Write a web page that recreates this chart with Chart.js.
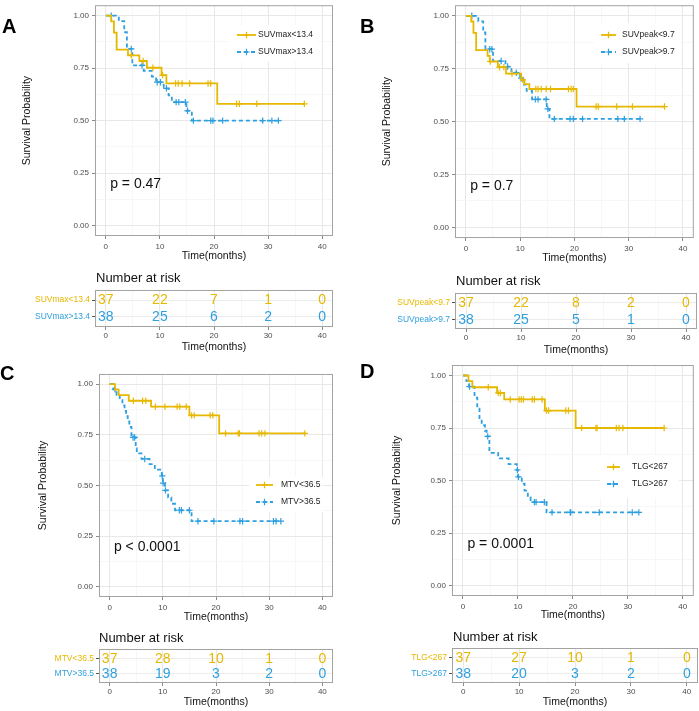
<!DOCTYPE html>
<html>
<head>
<meta charset="utf-8">
<script src="https://cdn.jsdelivr.net/npm/chart.js@4.4.1/dist/chart.umd.min.js"></script>
<style>
  body { margin: 0; background: #fff; }
  #wrap { position: relative; width: 699px; height: 711px; overflow: hidden; background: #fff; }
  #wrap canvas { position: absolute; }
  .tag { position: absolute; font: bold 20px "Liberation Sans", Arial, sans-serif; color: #000; line-height: 20px; }
</style>
</head>
<body>
<div id="wrap">
  <canvas id="kmA" width="349" height="264" style="left:0;top:0"></canvas>
  <canvas id="kmB" width="350" height="266" style="left:349px;top:0"></canvas>
  <canvas id="riskA" width="349" height="90" style="left:0;top:265px"></canvas>
  <canvas id="riskB" width="350" height="93" style="left:349px;top:265px"></canvas>
  <canvas id="kmC" width="349" height="285" style="left:0;top:340px"></canvas>
  <canvas id="kmD" width="350" height="283" style="left:349px;top:340px"></canvas>
  <canvas id="riskC" width="349" height="91" style="left:0;top:620px"></canvas>
  <canvas id="riskD" width="350" height="91" style="left:349px;top:620px"></canvas>
  <div class="tag" style="left:2px;top:16px">A</div>
  <div class="tag" style="left:360px;top:16px">B</div>
  <div class="tag" style="left:0;top:363px">C</div>
  <div class="tag" style="left:360px;top:361px">D</div>
</div>
<script>
// ---- data ----
const xTickLabels = [0, 10, 20, 30, 40];
const yTickLabels = [0, 0.25, 0.5, 0.75, 1];
const riskTimes = [0, 10, 20, 30, 40];

// A: SUVmax
const groupsA = ['SUVmax<13.4', 'SUVmax>13.4'];
const lowTimeA = [0, 1.0, 1.5, 2.0, 4.1, 6.2, 7.6, 10.3, 11.2, 20.6, 36.7];
const lowSurvA = [1, 0.973, 0.919, 0.838, 0.811, 0.784, 0.752, 0.717, 0.677, 0.58, 0.58];
const lowCensA = [4.7, 6.9, 8.7, 10.5, 12.9, 13.4, 14.1, 15.5, 18.9, 19.4, 24.2, 24.7, 27.9, 36.7];
const highTimeA = [0, 2.4, 3.4, 3.9, 4.9, 7.0, 8.5, 9.3, 10.7, 11.6, 12.2, 14.9, 15.9, 31.9];
const highSurvA = [1, 0.974, 0.921, 0.842, 0.763, 0.737, 0.71, 0.683, 0.654, 0.62, 0.588, 0.547, 0.5, 0.5];
const highCensA = [1.0, 4.7, 6.7, 9.5, 10.1, 11.2, 13.0, 13.5, 14.7, 15.1, 16.2, 19.4, 19.8, 21.6, 29.0, 30.7, 31.9];
const riskLowA = [37, 22, 7, 1, 0];
const riskHighA = [38, 25, 6, 2, 0];
const pTextA = 'p = 0.47';

// B: SUVpeak
const groupsB = ['SUVpeak<9.7', 'SUVpeak>9.7'];
const lowTimeB = [0, 1.0, 1.4, 1.9, 4.0, 4.4, 5.9, 7.4, 10.2, 10.8, 11.7, 20.4, 36.6];
const lowSurvB = [1, 0.973, 0.919, 0.838, 0.811, 0.784, 0.757, 0.727, 0.697, 0.677, 0.654, 0.571, 0.571];
const lowCensB = [4.5, 6.2, 7.0, 8.5, 10.5, 12.9, 13.3, 13.9, 14.8, 15.6, 18.9, 19.4, 19.8, 24.0, 24.4, 27.8, 30.7, 36.6];
const highTimeB = [0, 2.3, 3.2, 3.6, 5.0, 7.3, 8.4, 10.0, 10.5, 11.2, 12.2, 14.9, 15.4, 32.1];
const highSurvB = [1, 0.974, 0.921, 0.842, 0.786, 0.76, 0.731, 0.705, 0.675, 0.645, 0.605, 0.56, 0.513, 0.513];
const highCensB = [1.1, 4.4, 4.8, 6.5, 7.7, 9.3, 10.2, 12.8, 13.3, 14.8, 15.1, 16.3, 19.2, 19.8, 21.5, 28.0, 29.2, 32.1];
const riskLowB = [37, 22, 8, 2, 0];
const riskHighB = [38, 25, 5, 1, 0];
const pTextB = 'p = 0.7';

// C: MTV
const groupsC = ['MTV<36.5', 'MTV>36.5'];
const lowTimeC = [0, 1.0, 1.7, 3.6, 7.8, 15.0, 20.6, 36.8];
const lowSurvC = [1, 0.973, 0.946, 0.918, 0.889, 0.846, 0.757, 0.757];
const lowCensC = [4.45, 6.2, 6.8, 8.6, 10.4, 12.7, 13.2, 14.4, 15.4, 15.9, 18.9, 19.4, 21.8, 24.2, 24.4, 28.1, 28.6, 29.2, 36.7];
const highTimeC = [0, 0.7, 1.3, 1.9, 2.4, 2.8, 3.1, 3.4, 3.7, 4.1, 4.9, 5.1, 6.0, 7.5, 8.5, 9.8, 10.0, 10.4, 11.0, 11.6, 12.3, 15.4, 32.2];
const highSurvC = [1, 0.974, 0.947, 0.921, 0.895, 0.868, 0.842, 0.816, 0.789, 0.737, 0.684, 0.658, 0.631, 0.605, 0.578, 0.547, 0.512, 0.476, 0.441, 0.41, 0.378, 0.324, 0.324];
const highCensC = [1.0, 4.4, 4.7, 6.6, 9.9, 10.05, 10.5, 13.1, 13.5, 15.0, 16.6, 19.6, 24.5, 25.0, 30.8, 31.3, 32.2];
const riskLowC = [37, 28, 10, 1, 0];
const riskHighC = [38, 19, 3, 2, 0];
const pTextC = 'p < 0.0001';

// D: TLG
const groupsD = ['TLG<267', 'TLG>267'];
const lowTimeD = [0, 1.0, 1.7, 6.2, 7.5, 14.9, 20.5, 36.5];
const lowSurvD = [1, 0.973, 0.944, 0.917, 0.886, 0.833, 0.75, 0.75];
const lowCensD = [4.6, 6.4, 6.8, 8.6, 10.2, 10.6, 11.0, 12.6, 13.0, 14.4, 15.2, 15.6, 18.7, 19.2, 21.6, 24.2, 24.4, 27.9, 28.4, 29.1, 36.6];
const highTimeD = [0, 0.6, 1.1, 2.1, 2.6, 3.0, 3.4, 4.0, 4.3, 4.8, 6.4, 8.3, 9.8, 10.0, 10.7, 11.2, 11.8, 12.3, 15.2, 32.0];
const highSurvD = [1, 0.974, 0.947, 0.895, 0.842, 0.79, 0.763, 0.737, 0.71, 0.632, 0.605, 0.578, 0.55, 0.517, 0.485, 0.452, 0.42, 0.397, 0.348, 0.348];
const highCensD = [1.2, 4.5, 9.9, 10.1, 13.0, 13.3, 14.8, 16.2, 19.5, 19.6, 24.8, 30.8, 32.0];
const riskLowD = [37, 27, 10, 1, 0];
const riskHighD = [38, 20, 3, 2, 0];
const pTextD = 'p = 0.0001';

// ---- styling / helpers ----
const yellow = '#E7B800';
const blue = '#2E9FDF';
const fontFam = '"Liberation Sans", Arial, Helvetica, sans-serif';
Chart.defaults.font.family = fontFam;

// survival value of a step curve at time t (for the censor marks)
const survAt = (times, surv, t) => {
  let s = surv[0];
  for (let i = 0; i < times.length; i++) if (times[i] <= t) s = surv[i];
  return s;
};

// major ticks plus ggplot-style minor gridlines halfway between them
const gridTicks = (major) => {
  const out = [];
  major.forEach((v, i) => {
    out.push({ value: v });
    if (i < major.length - 1) out.push({ value: (v + major[i + 1]) / 2, minor: true });
  });
  return out;
};

const gridStyle = {
  color: c => (c.tick && c.tick.minor ? '#f3f3f3' : '#e8e8e8'),
  lineWidth: c => (c.tick && c.tick.minor ? 0.7 : 1),
  tickColor: c => (c.tick && c.tick.minor ? 'rgba(0,0,0,0)' : '#8a8a8a'),
  tickLength: 3,
};

const kmPlugin = {
  id: 'km',
  beforeDatasetsDraw(chart, args, o) {
    const ctx = chart.ctx;
    const b = o.legend.box;
    ctx.save();
    ctx.fillStyle = '#fff';
    ctx.fillRect(b[0], b[1], b[2] - b[0], b[3] - b[1]);
    ctx.restore();
  },
  afterDatasetsDraw(chart, args, o) {
    const { ctx, chartArea: a, scales } = chart;
    ctx.save();
    // panel border
    ctx.strokeStyle = '#a3a3a3';
    ctx.lineWidth = 1;
    ctx.strokeRect(a.left + 0.5, a.top + 0.5, a.right - a.left - 1, a.bottom - a.top - 1);
    // legend
    const L = o.legend;
    o.series.forEach((s, i) => {
      const y = L.rows[i];
      ctx.strokeStyle = s.color;
      ctx.lineWidth = 1.8;
      ctx.setLineDash(s.dash);
      ctx.beginPath();
      ctx.moveTo(L.line[0], y);
      ctx.lineTo(L.line[1], y);
      ctx.stroke();
      ctx.setLineDash([]);
      ctx.lineWidth = 1.2;
      const cx = (L.line[0] + L.line[1]) / 2;
      ctx.beginPath();
      ctx.moveTo(cx - 3.2, y); ctx.lineTo(cx + 3.2, y);
      ctx.moveTo(cx, y - 3.2); ctx.lineTo(cx, y + 3.2);
      ctx.stroke();
      ctx.fillStyle = '#222';
      ctx.font = '8.5px ' + fontFam;
      ctx.textAlign = 'left';
      ctx.textBaseline = 'middle';
      ctx.fillText(s.label, L.textX, y);
    });
    // p value
    ctx.fillStyle = '#111';
    ctx.font = '14px ' + fontFam;
    ctx.textAlign = 'left';
    ctx.textBaseline = 'middle';
    ctx.fillText(o.pText, scales.x.getPixelForValue(0.8), scales.y.getPixelForValue(0.195));
    ctx.restore();
  }
};

const riskPlugin = {
  id: 'risk',
  afterDatasetsDraw(chart, args, o) {
    const { ctx, chartArea: a } = chart;
    ctx.save();
    ctx.font = '14px ' + fontFam;
    ctx.textAlign = 'center';
    ctx.textBaseline = 'middle';
    chart.data.datasets.forEach((ds, di) => {
      const meta = chart.getDatasetMeta(di);
      ctx.fillStyle = ds.borderColor;
      meta.data.forEach((pt, i) => ctx.fillText(String(ds.counts[i]), pt.x, pt.y + 0.5));
    });
    ctx.strokeStyle = '#a3a3a3';
    ctx.lineWidth = 1;
    ctx.strokeRect(a.left + 0.5, a.top + 0.5, a.right - a.left - 1, a.bottom - a.top - 1);
    ctx.fillStyle = '#111';
    ctx.font = '13px ' + fontFam;
    ctx.textAlign = 'left';
    ctx.fillText('Number at risk', o.titleX, o.titleY);
    ctx.restore();
  }
};

function xScale(p, titlePad) {
  return {
    type: 'linear', min: -2, max: 42,
    afterBuildTicks: s => { s.ticks = gridTicks(xTickLabels); },
    afterFit: s => { s.height = p.h - p.area[3]; s.paddingLeft = 0; s.paddingRight = 0; },
    ticks: {
      autoSkip: false, maxRotation: 0, padding: p.xTickPad, color: '#4d4d4d', font: { size: 8 },
      callback: (v, i, t) => (t[i].minor ? '' : String(v)),
    },
    grid: gridStyle,
    border: { display: false },
    title: { display: true, text: 'Time(months)', color: '#111', font: { size: 10.5 }, padding: { top: 0, bottom: titlePad } },
  };
}

function kmChart(id, p) {
  const ser = [
    { label: p.groups[0], color: yellow, dash: [], times: p.low[0], surv: p.low[1], cens: p.low[2] },
    { label: p.groups[1], color: blue, dash: [4, 3], times: p.high[0], surv: p.high[1], cens: p.high[2] },
  ];
  const datasets = [];
  ser.forEach(s => {
    datasets.push({
      type: 'line', label: s.label,
      data: s.times.map((t, i) => ({ x: t, y: s.surv[i] })),
      stepped: 'before', borderColor: s.color, borderWidth: 1.8, borderDash: s.dash,
      pointRadius: 0, fill: false,
    });
    datasets.push({
      type: 'scatter', label: s.label + ' censored',
      data: s.cens.map(t => ({ x: t, y: survAt(s.times, s.surv, t) })),
      pointStyle: 'cross', pointRadius: 3.2, borderColor: s.color, backgroundColor: s.color, borderWidth: 1.2,
    });
  });
  return new Chart(document.getElementById(id), {
    data: { datasets },
    options: {
      responsive: false, animation: false, devicePixelRatio: 1,
      layout: { padding: { left: 0, top: p.area[1], right: p.w - p.area[2], bottom: 0 } },
      plugins: {
        legend: { display: false }, tooltip: { enabled: false },
        km: { series: ser, legend: p.legend, pText: p.pText },
      },
      scales: {
        x: xScale(p, p.xTitlePad),
        y: {
          type: 'linear', min: -0.05, max: 1.05,
          afterBuildTicks: s => { s.ticks = gridTicks(yTickLabels); },
          afterFit: s => { s.width = p.area[0]; s.paddingTop = 0; s.paddingBottom = 0; },
          ticks: {
            autoSkip: false, padding: 3, color: '#4d4d4d', font: { size: 8 },
            callback: (v, i, t) => (t[i].minor ? '' : v.toFixed(2)),
          },
          grid: gridStyle,
          border: { display: false },
          title: { display: true, text: 'Survival Probability', color: '#111', font: { size: 10.5 }, padding: { top: p.yTitlePad, bottom: 0 } },
        },
      },
    },
    plugins: [kmPlugin],
  });
}

function riskChart(id, p) {
  const datasets = [
    { type: 'scatter', data: riskTimes.map(t => ({ x: t, y: 2 })), counts: p.counts[0], borderColor: yellow, pointRadius: 0 },
    { type: 'scatter', data: riskTimes.map(t => ({ x: t, y: 1 })), counts: p.counts[1], borderColor: blue, pointRadius: 0 },
  ];
  return new Chart(document.getElementById(id), {
    data: { datasets },
    options: {
      responsive: false, animation: false, devicePixelRatio: 1,
      layout: { padding: { left: 0, top: p.area[1], right: p.w - p.area[2], bottom: 0 } },
      plugins: { legend: { display: false }, tooltip: { enabled: false }, risk: { titleX: p.titleX, titleY: p.titleY } },
      scales: {
        x: xScale(p, p.xTitlePad),
        y: {
          type: 'linear', min: 0.4, max: 2.6,
          afterBuildTicks: s => { s.ticks = [{ value: 1 }, { value: 2 }]; },
          afterFit: s => { s.width = p.area[0]; s.paddingTop = 0; s.paddingBottom = 0; },
          ticks: {
            autoSkip: false, padding: 2, font: { size: 8.5 },
            color: c => (c.tick && c.tick.value === 2 ? yellow : blue),
            callback: v => (v === 2 ? p.groups[0] : p.groups[1]),
          },
          grid: { color: '#ececec', tickColor: '#555', tickLength: 3 },
          border: { display: false },
        },
      },
    },
    plugins: [riskPlugin],
  });
}

// ---- panels ----
kmChart('kmA', {
  w: 349, h: 264, area: [95, 1, 333, 236], xTickPad: 2.5, xTitlePad: 1.2, yTitlePad: 20.7,
  groups: groupsA, low: [lowTimeA, lowSurvA, lowCensA], high: [highTimeA, highSurvA, highCensA], pText: pTextA,
  legend: { box: [228, 25, 318, 62], line: [237, 256], textX: 258, rows: [35, 52] },
});
kmChart('kmB', {
  w: 350, h: 266, area: [106, 1, 348, 238], xTickPad: 2.5, xTitlePad: 1.7, yTitlePad: 32,
  groups: groupsB, low: [lowTimeB, lowSurvB, lowCensB], high: [highTimeB, highSurvB, highCensB], pText: pTextB,
  legend: { box: [245, 23, 330, 63], line: [252, 267], textX: 273, rows: [35, 52] },
});
kmChart('kmC', {
  w: 349, h: 285, area: [99, 34, 333, 257], xTickPad: 2.5, xTitlePad: 1.7, yTitlePad: 36.7,
  groups: groupsC, low: [lowTimeC, lowSurvC, lowCensC], high: [highTimeC, highSurvC, highCensC], pText: pTextC,
  legend: { box: [249, 137, 323, 172], line: [256, 273], textX: 281, rows: [145, 162] },
});
kmChart('kmD', {
  w: 350, h: 283, area: [103, 25, 349, 256], xTickPad: 2.5, xTitlePad: 1.7, yTitlePad: 42,
  groups: groupsD, low: [lowTimeD, lowSurvD, lowCensD], high: [highTimeD, highSurvD, highCensD], pText: pTextD,
  legend: { box: [251, 115, 330, 158], line: [258, 271], textX: 283, rows: [127, 144] },
});

riskChart('riskA', { w: 349, h: 90, area: [95, 25, 333, 62], xTickPad: 1, xTitlePad: 1.7, groups: groupsA, counts: [riskLowA, riskHighA], titleX: 96, titleY: 13 });
riskChart('riskB', { w: 350, h: 93, area: [106, 28, 348, 64], xTickPad: 1, xTitlePad: 1.7, groups: groupsB, counts: [riskLowB, riskHighB], titleX: 107, titleY: 16 });
riskChart('riskC', { w: 349, h: 91, area: [99, 29, 333, 63], xTickPad: 1, xTitlePad: 2.7, groups: groupsC, counts: [riskLowC, riskHighC], titleX: 99, titleY: 18 });
riskChart('riskD', { w: 350, h: 91, area: [103, 28, 349, 63], xTickPad: 1, xTitlePad: 2.7, groups: groupsD, counts: [riskLowD, riskHighD], titleX: 104, titleY: 17 });
</script>
</body>
</html>
